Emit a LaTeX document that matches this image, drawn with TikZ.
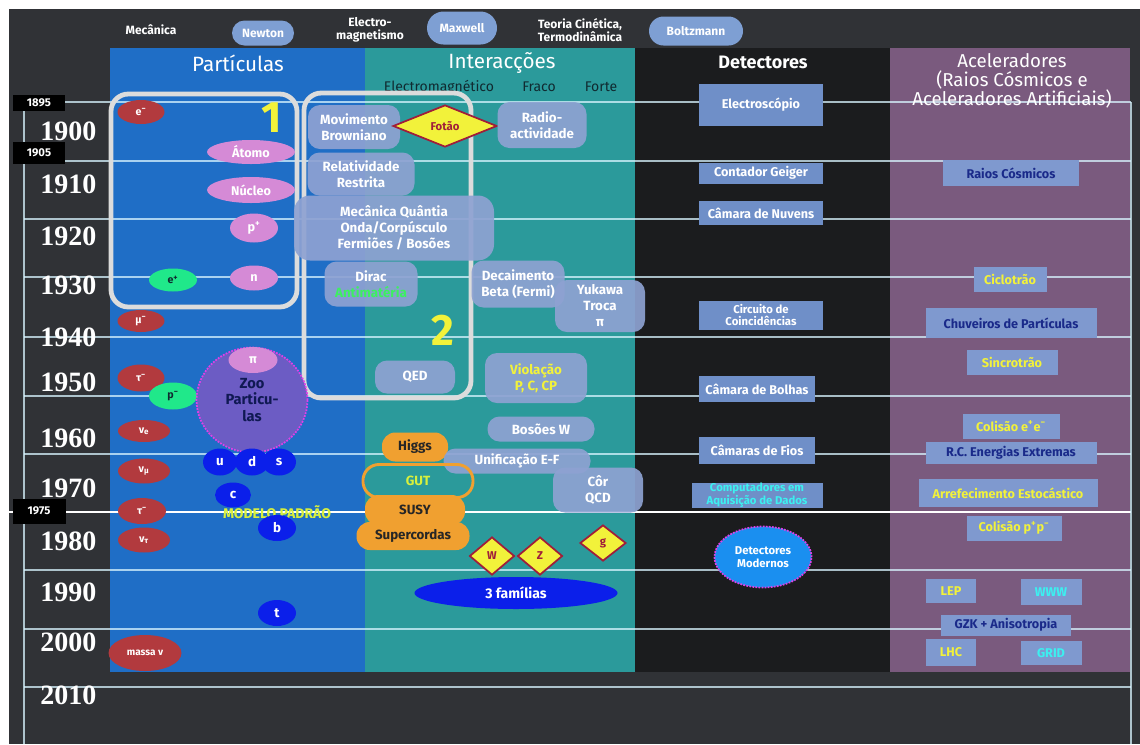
\documentclass[tikz,border=0pt]{standalone}
\usepackage{fontspec}
\setmainfont{Fira Sans}
\newfontfamily\yearfont{Liberation Serif}
\usetikzlibrary{shapes.geometric,shapes.misc}
\newcommand\fsz[2]{\fontsize{#1}{#2}\selectfont}
\definecolor{board}{HTML}{303236}
\definecolor{colblue}{HTML}{1F6EC6}
\definecolor{colteal}{HTML}{2B9A9B}
\definecolor{colblack}{HTML}{1B1C1E}
\definecolor{colpurple}{HTML}{7A5A7E}
\definecolor{pill}{HTML}{7E9FD3}
\definecolor{ibox}{HTML}{8EA2D2}
\definecolor{dbox}{HTML}{6F8FC8}
\definecolor{abox}{HTML}{7F99CF}
\definecolor{lepred}{HTML}{B23A3E}
\definecolor{pinkp}{HTML}{D58AD6}
\definecolor{greenp}{HTML}{20E88A}
\definecolor{quark}{HTML}{0B1FEA}
\definecolor{orangeb}{HTML}{F0A030}
\definecolor{yellowt}{HTML}{F2F23A}
\definecolor{limet}{HTML}{D8F03C}
\definecolor{navyt}{HTML}{1A2A8A}
\definecolor{cyant}{HTML}{3CF0F0}
\definecolor{antig}{HTML}{3CF060}
\definecolor{zoo}{HTML}{6C5CC4}
\definecolor{magdot}{HTML}{E040E8}
\definecolor{fotred}{HTML}{A01E3A}
\definecolor{outl}{HTML}{DCDCDC}
\definecolor{subt}{HTML}{102A30}
\definecolor{modblue}{HTML}{1A8FF0}
\definecolor{gridc}{HTML}{D8F4FF}
\begin{document}
\begin{tikzpicture}[x=0.75pt,y=-0.75pt,
  sz/.style 2 args={minimum width=#1*0.75pt,minimum height=#2*0.75pt,inner sep=0pt},
  lep/.style={ellipse,fill=lepred,text=white,font=\bfseries\fsz{8}{9}},
  pk/.style={ellipse,fill=pinkp,text=white,font=\bfseries\fsz{9.5}{10}},
  gp/.style={ellipse,fill=greenp,text=subt,font=\bfseries\fsz{8}{9}},
  qk/.style={ellipse,fill=quark,text=white,font=\bfseries\fsz{10}{11}},
  ib/.style={rectangle,rounded corners=9pt,fill=ibox,fill opacity=0.92,text opacity=1,text=white,align=center,font=\bfseries\fsz{10}{12}},
  ob/.style={rectangle,rounded corners=10pt,fill=orangeb,text=black!85,font=\bfseries\fsz{10}{11}},
  dia/.style={diamond,fill=yellowt,draw=fotred,line width=1.3pt,text=fotred,font=\bfseries\fsz{8.5}{9}},
  db/.style={rectangle,fill=dbox,text=white,align=center,font=\bfseries\fsz{9.5}{10}},
  ab/.style={rectangle,fill=abox,text=navyt,align=center,font=\bfseries\fsz{9.5}{10}},
  hp/.style={rounded rectangle,fill=pill,text=white,font=\bfseries\fsz{9}{10}},
  ht/.style={text=white,align=center,font=\bfseries\fsz{9}{9.5}},
  colh/.style={text=white,align=center,font=\fsz{15.5}{17}},
  yr/.style={text=white,anchor=east,font=\yearfont\bfseries\fsz{21}{22}},
  yb/.style={fill=black,text=white,font=\bfseries\fsz{8.5}{9}},
  subh/.style={text=subt,font=\fsz{10.5}{11}},
  bignum/.style={text=yellowt,font=\bfseries\fsz{33}{33}},
  hl/.style={draw=gridc,draw opacity=0.75,line width=1.1pt},
  outbox/.style={draw=outl,line width=3.6pt,rounded corners=13pt}
]
\useasboundingbox (0,0) rectangle (1140,744);
% background
\fill[white] (0,0) rectangle (1140,744);
\fill[board] (9,9) rectangle (1140,744);
% columns
\fill[colblue] (110,48) rectangle (365,672);
\fill[colteal] (365,48) rectangle (635,672);
\fill[colblack] (635,48) rectangle (890,672);
\fill[colpurple] (890,48) rectangle (1130,672);
% grid lines
\foreach \yy in {102,161,219,277,337,396,454,570,629,687}
  \draw[hl] (24,\yy) -- (1131,\yy);
\draw[white,line width=2.2pt] (0,512) -- (1131,512);
\draw[hl] (24,102) -- (24,744);
\draw[hl] (1131,102) -- (1131,744);
% top header row
\node[ht] (mec) at (151,30) {Mecânica};
\node[hp,sz={62}{25}] (newton) at (263,33) {Newton};
\node[ht] (elm) at (370,30) {Electro-\\magnetismo};
\node[hp,sz={70}{33}] (maxwell) at (462,28) {Maxwell};
\node[ht] (tcin) at (580,30) {Teoria Cinética,\\Termodinâmica};
\node[hp,sz={94}{29}] (boltz) at (696,31) {Boltzmann};
% column headers
\node[colh] (hpart) at (238,63) {Partículas};
\node[colh] (hint) at (502,63) {Interacções};
\node[colh,font=\bfseries\fsz{13.5}{15}] (hdet) at (763,62) {Detectores};
\node[colh,font=\fsz{14}{14.5}] (hacc) at (1012,81) {Aceleradores\\(Raios Cósmicos e\\Aceleradores Artificiais)};
\node[subh] (sem) at (439,87) {Electromagnético};
\node[subh] (sfr) at (539,87) {Fraco};
\node[subh] (sfo) at (601,87) {Forte};
% years
\node[yr] (y1900) at (101,131) {1900};
\node[yr] (y1910) at (101,184) {1910};
\node[yr] (y1920) at (101,236) {1920};
\node[yr] (y1930) at (101,285) {1930};
\node[yr] (y1940) at (101,337) {1940};
\node[yr] (y1950) at (101,382) {1950};
\node[yr] (y1960) at (101,438) {1960};
\node[yr] (y1970) at (101,488) {1970};
\node[yr] (y1980) at (101,541) {1980};
\node[yr] (y1990) at (101,592) {1990};
\node[yr] (y2000) at (101,642) {2000};
\node[yr] (y2010) at (101,695) {2010};
\node[yb,sz={52}{16}] (b1895) at (39,103) {1895};
\node[yb,sz={52}{22}] (b1905) at (39,153) {1905};
\node[yb,sz={53}{25}] (b1975) at (39,511) {1975};
% outline boxes
\draw[outbox] (111,94) rectangle (297,307);
\draw[outbox] (304,93) rectangle (471,398);
\node[bignum] (n1) at (272,118) {1};
\node[bignum] (n2) at (443,330) {2};
% particles
\node[lep,sz={47}{24}] (em) at (141,112) {e\textsuperscript{−}};
\node[lep,sz={47}{22}] (mu) at (141,321) {μ\textsuperscript{−}};
\node[lep,sz={47}{27}] (tau1) at (141,378) {τ\textsuperscript{−}};
\node[lep,sz={52}{22}] (nue) at (144,431) {ν\textsubscript{e}};
\node[lep,sz={52}{25}] (numu) at (144,471) {ν\textsubscript{μ}};
\node[lep,sz={48}{26}] (tau2) at (142,511) {τ\textsuperscript{−}};
\node[lep,sz={52}{25}] (nutau) at (144,540) {ν\textsubscript{τ}};
\node[lep,sz={73}{36},font=\bfseries\fsz{7.5}{8}] (massa) at (145,653) {massa ν};
\node[pk,sz={88}{24}] (atomo) at (251,152) {Átomo};
\node[pk,sz={88}{26}] (nucleo) at (251,190) {Núcleo};
\node[pk,sz={48}{29}] (pp) at (254,228) {p\textsuperscript{+}};
\node[pk,sz={48}{25}] (nn) at (254,278) {n};
\node[gp,sz={48}{23}] (ep) at (173,280) {e\textsuperscript{+}};
\node[gp,sz={48}{27}] (pbar) at (173,396) {p\textsuperscript{−}};
\node[ellipse,sz={111}{105},fill=zoo,draw=magdot,densely dotted,line width=1.3pt,text=navyt!60!black,align=center,font=\bfseries\fsz{11}{12.5}] (zoo) at (252,400) {Zoo\\Particu-\\las};
\node[pk,sz={49}{26}] (pi) at (253,360) {π};
\node[qk,sz={34}{27}] (qu) at (220,462) {u};
\node[qk,sz={34}{27}] (qd) at (252,462) {d};
\node[qk,sz={34}{27}] (qs) at (279,462) {s};
\node[qk,sz={36}{25}] (qc) at (233,495) {c};
\node[text=limet,font=\bfseries\fsz{10.5}{11}] (modelo) at (277,512) {MODELO PADRÃO};
\node[qk,sz={38}{26}] (qb) at (277,528) {b};
\node[qk,sz={38}{26}] (qt) at (277,613) {t};
% interactions
\node[ib,sz={92}{44}] (movb) at (354,127) {Movimento\\Browniano};
\node[dia,sz={104}{42}] (fotao) at (445,126) {Fotão};
\node[ib,sz={89}{46}] (radio) at (542,125) {Radio-\\actividade};
\node[ib,sz={107}{43}] (relat) at (361,174) {Relatividade\\Restrita};
\node[ib,sz={200}{65},rounded corners=12pt] (mecq) at (394,228) {Mecânica Quântia\\Onda/Corpúsculo\\Fermiões / Bosões};
\node[ib,sz={93}{45}] (dirac) at (371,284) {Dirac\\\textcolor{antig}{Antimatéria}};
\node[ib,sz={93}{47}] (beta) at (518,284) {Decaimento\\Beta (Fermi)};
\node[ib,sz={90}{52}] (yukawa) at (600,306) {Yukawa\\Troca\\π};
\node[ib,sz={80}{33}] (qed) at (415,377) {QED};
\node[ib,sz={102}{50},text=yellowt] (viol) at (536,378) {Violação\\P, C, CP};
\node[ib,sz={107}{25}] (bosw) at (541,429) {Bosões W};
\node[ob,sz={66}{29}] (higgs) at (415,447) {Higgs};
\node[ib,sz={147}{25}] (unif) at (517,461) {Unificação E-F};
\node[rectangle,rounded corners=12pt,draw=orangeb,line width=2.2pt,text=limet,font=\bfseries\fsz{10}{11},sz={110}{33}] (gut) at (418,481) {GUT};
\node[ib,sz={90}{45}] (cor) at (598,490) {Côr\\QCD};
\node[ob,sz={100}{30}] (susy) at (415,510) {SUSY};
\node[ob,sz={113}{28}] (superc) at (413,536) {Supercordas};
\node[dia,sz={45}{38}] (bw) at (492,556) {W};
\node[dia,sz={45}{38}] (bz) at (540,556) {Z};
\node[dia,sz={46}{36}] (bg) at (603,543) {g};
\node[ellipse,fill=quark,text=white,font=\bfseries\fsz{10.5}{11},sz={203}{32}] (fam) at (516,593) {3 famílias};
% detectors
\node[db,sz={124}{42}] (escop) at (761,105) {Electroscópio};
\node[db,sz={124}{21}] (geiger) at (761,173) {Contador Geiger};
\node[db,sz={124}{24}] (nuvens) at (761,213) {Câmara de Nuvens};
\node[db,sz={124}{29},font=\bfseries\fsz{8.5}{9.5}] (coinc) at (761,315) {Circuito de\\Coincidências};
\node[db,sz={116}{26}] (bolhas) at (757,389) {Câmara de Bolhas};
\node[db,sz={116}{27}] (fios) at (757,450) {Câmaras de Fios};
\node[db,sz={131}{25},text=cyant,font=\bfseries\fsz{8.5}{9.5}] (comp) at (757,495) {Computadores em\\Aquisição de Dados};
\node[ellipse,fill=modblue,draw=magdot,densely dotted,line width=1.3pt,text=white,align=center,font=\bfseries\fsz{8.5}{10}] [sz={97}{61}] (modern) at (763,557) {Detectores\\Modernos};
% accelerators
\node[ab,sz={136}{26}] (rcos) at (1011,173) {Raios Cósmicos};
\node[ab,sz={73}{25},text=yellowt] (cicl) at (1010,279) {Ciclotrão};
\node[ab,sz={171}{30}] (chuv) at (1011,323) {Chuveiros de Partículas};
\node[ab,sz={91}{25},text=yellowt] (sincr) at (1012,362) {Sincrotrão};
\node[ab,sz={97}{25},text=yellowt] (colee) at (1011,426) {Colisão e\textsuperscript{+}e\textsuperscript{−}};
\node[ab,sz={171}{22}] (rcee) at (1011,453) {R.C. Energias Extremas};
\node[ab,sz={179}{28},text=yellowt] (arref) at (1008,493) {Arrefecimento Estocástico};
\node[ab,sz={95}{25},text=yellowt] (colpp) at (1014,528) {Colisão p\textsuperscript{+}p\textsuperscript{−}};
\node[ab,sz={50}{24},text=yellowt] (lep) at (951,591) {LEP};
\node[ab,sz={61}{26},text=cyant] (www) at (1051,592) {WWW};
\node[ab,sz={130}{21}] (gzk) at (1006,625) {GZK + Anisotropia};
\node[ab,sz={50}{27},text=yellowt] (lhc) at (951,652) {LHC};
\node[ab,sz={61}{24},text=cyant] (grid) at (1051,653) {GRID};
\end{tikzpicture}
\end{document}
